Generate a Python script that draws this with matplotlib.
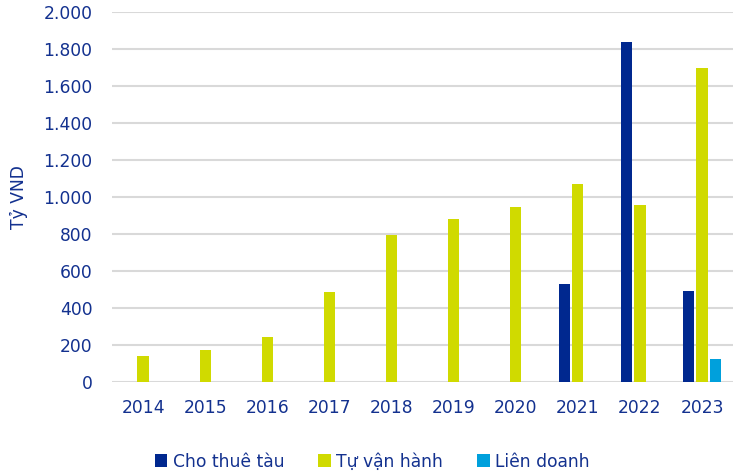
import matplotlib
matplotlib.use("Agg")
import matplotlib.pyplot as plt
import numpy as np

years = ["2014", "2015", "2016", "2017", "2018", "2019", "2020", "2021", "2022", "2023"]
cho_thue_tau = [0, 0, 0, 0, 0, 0, 0, 530, 1836, 492]
tu_van_hanh = [140, 173, 243, 486, 795, 881, 946, 1072, 957, 1699]
lien_doanh = [0, 0, 0, 0, 0, 0, 0, 0, 0, 124]

text_color = "#13318f"
plt.rcParams["font.family"] = ["DejaVu Sans"]

fig = plt.figure(figsize=(7.39, 4.73), dpi=100)
ax = fig.add_axes([0.1516, 0.1924, 0.8404, 0.7822])

x = np.arange(len(years))
w = 0.18
step = 0.215
ax.bar(x - step, cho_thue_tau, w, color="#00288f", label="Cho thuê tàu", zorder=3)
ax.bar(x, tu_van_hanh, w, color="#d0da00", label="Tự vận hành", zorder=3)
ax.bar(x + step, lien_doanh, w, color="#00a0dc", label="Liên doanh", zorder=3)

ax.set_xlim(-0.5, len(years) - 0.5)
ax.set_ylim(0, 2000)
ax.set_yticks(range(0, 2001, 200))
ax.set_yticklabels([f"{v:,}".replace(",", ".") for v in range(0, 2001, 200)])
ax.set_xticks(x)
ax.set_xticklabels(years)
ax.grid(axis="y", color="#d9d9d9", linewidth=1.5, zorder=0)
for s in ax.spines.values():
    s.set_visible(False)
ax.tick_params(length=0, labelsize=12.3, colors=text_color)
ax.tick_params(axis="y", pad=14)
ax.tick_params(axis="x", pad=12)
ax.set_ylabel("Tỷ VND", color=text_color, fontsize=12.3, labelpad=11)

ax.legend(loc="center", bbox_to_anchor=(0.419, -0.215), ncol=3, frameon=False,
          fontsize=12.3, labelcolor=text_color, handlelength=0.75, handleheight=0.75,
          handletextpad=0.3, columnspacing=2.0)

fig.savefig("out.png", dpi=100)
